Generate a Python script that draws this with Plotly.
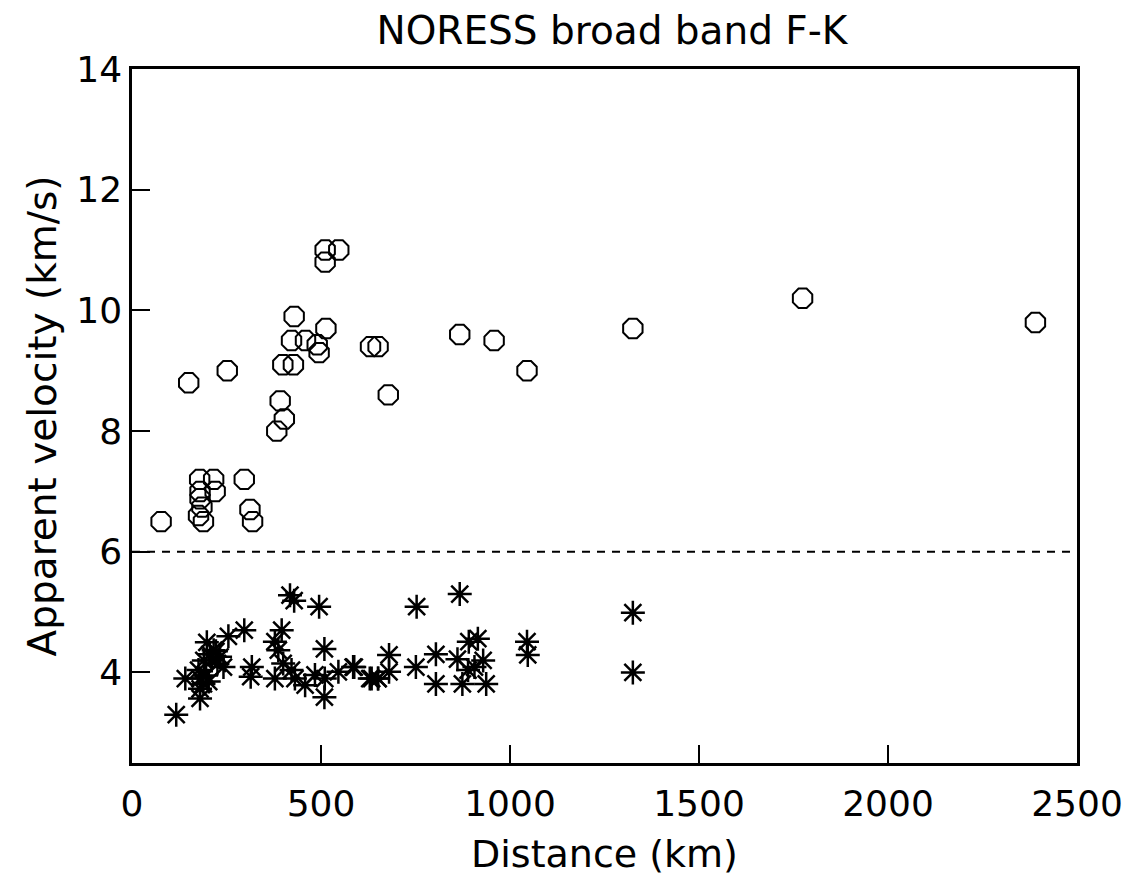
import plotly.graph_objects as go

# Circles: apparent velocity > 6 km/s (P phases)
circle_dist = [77, 179, 216, 220, 180, 180, 185, 176, 189, 297, 312, 319,
               150, 252, 392, 403, 383, 399, 427, 422, 459, 429, 513, 490, 495,
               631, 651, 678, 511, 547, 511, 867, 958, 1045, 1325, 1774, 2390]
circle_vel = [6.5, 7.2, 7.2, 7.0, 7.0, 6.88, 6.74, 6.6, 6.5, 7.2, 6.7, 6.5,
              8.8, 9.0, 8.5, 8.2, 8.0, 9.1, 9.1, 9.5, 9.5, 9.9, 9.7, 9.43, 9.3,
              9.4, 9.4, 8.6, 11.0, 11.0, 10.8, 9.6, 9.5, 9.0, 9.7, 10.2, 9.8]

# Stars: apparent velocity < 6 km/s (S / Lg phases)
star_dist = [117, 141, 180, 180, 180, 176, 189, 216, 211, 233, 242, 198, 255, 297,
             206, 226, 196, 190, 222, 203,
             317, 314, 396, 378, 387, 378, 400, 418, 429, 495, 509, 509,
             422, 431, 458, 484, 510, 546, 585, 629, 651,
             588, 634, 651, 680, 680, 753, 751, 804, 804, 867, 861, 874,
             891, 915, 929, 889, 906, 937, 1045, 1047, 1325, 1325]
star_vel = [3.3, 3.9, 3.57, 3.73, 3.9, 4.04, 3.81, 4.37, 4.2, 4.26, 4.09, 4.5, 4.6, 4.7,
            4.3, 4.15, 3.95, 4.2, 4.35, 3.85,
            4.09, 3.93, 4.7, 4.51, 4.37, 3.9, 4.15, 5.28, 5.19, 5.09, 4.39, 3.59,
            4.04, 3.9, 3.79, 3.96, 3.9, 4.01, 4.09, 3.9, 3.9,
            4.09, 3.9, 3.9, 4.29, 4.01, 5.09, 4.09, 4.3, 3.81, 5.3, 4.22, 3.81,
            4.51, 4.56, 4.2, 4.04, 4.09, 3.81, 4.51, 4.29, 4.99, 4.0]

# Reference line separating the two groups
ref_line_x = [0, 2500]
ref_line_y = [6, 6]

x_ticks = [0, 500, 1000, 1500, 2000, 2500]
y_ticks = [4, 6, 8, 10, 12, 14]

FONT = "DejaVu Sans"

fig = go.Figure()
fig.add_trace(go.Scatter(
    x=ref_line_x, y=ref_line_y, mode="lines",
    line=dict(color="black", width=2, dash="8px,7px"),
    hoverinfo="skip", showlegend=False))
fig.add_trace(go.Scatter(
    x=circle_dist, y=circle_vel, mode="markers",
    marker=dict(symbol="octagon-open", size=21, color="black",
                line=dict(color="black", width=2)),
    showlegend=False))
fig.add_trace(go.Scatter(
    x=star_dist, y=star_vel, mode="markers",
    marker=dict(symbol="asterisk-open", size=20, color="black",
                line=dict(color="black", width=2.5)),
    showlegend=False))

fig.update_layout(
    width=1137, height=882,
    margin=dict(l=124, r=68, t=61, b=127),
    paper_bgcolor="white", plot_bgcolor="white",
    font=dict(family=FONT, color="black", size=32),
    title=dict(text="NORESS broad band F-K", x=0.5312, xanchor="center",
               y=0.975, yanchor="middle",
               font=dict(family=FONT, size=39, color="black")),
)
fig.update_xaxes(
    range=[0, 2500], tickvals=x_ticks, ticktext=[str(v) for v in x_ticks],
    showgrid=False, zeroline=False,
    showline=True, linecolor="black", linewidth=2.5, mirror=True,
    ticks="inside", ticklen=18, tickwidth=1.5, tickcolor="black",
    tickfont=dict(family=FONT, size=36), ticklabelstandoff=7,
    title=dict(text="Distance (km)", font=dict(family=FONT, size=38), standoff=18),
)
fig.update_yaxes(
    range=[2.5, 14], tickvals=y_ticks, ticktext=[str(v) for v in y_ticks],
    showgrid=False, zeroline=False,
    showline=True, linecolor="black", linewidth=2.5, mirror=True,
    ticks="inside", ticklen=18, tickwidth=1.5, tickcolor="black",
    tickfont=dict(family=FONT, size=36),
    title=dict(text="Apparent velocity (km/s)", font=dict(family=FONT, size=39), standoff=8),
)

fig.write_html("out.html")
